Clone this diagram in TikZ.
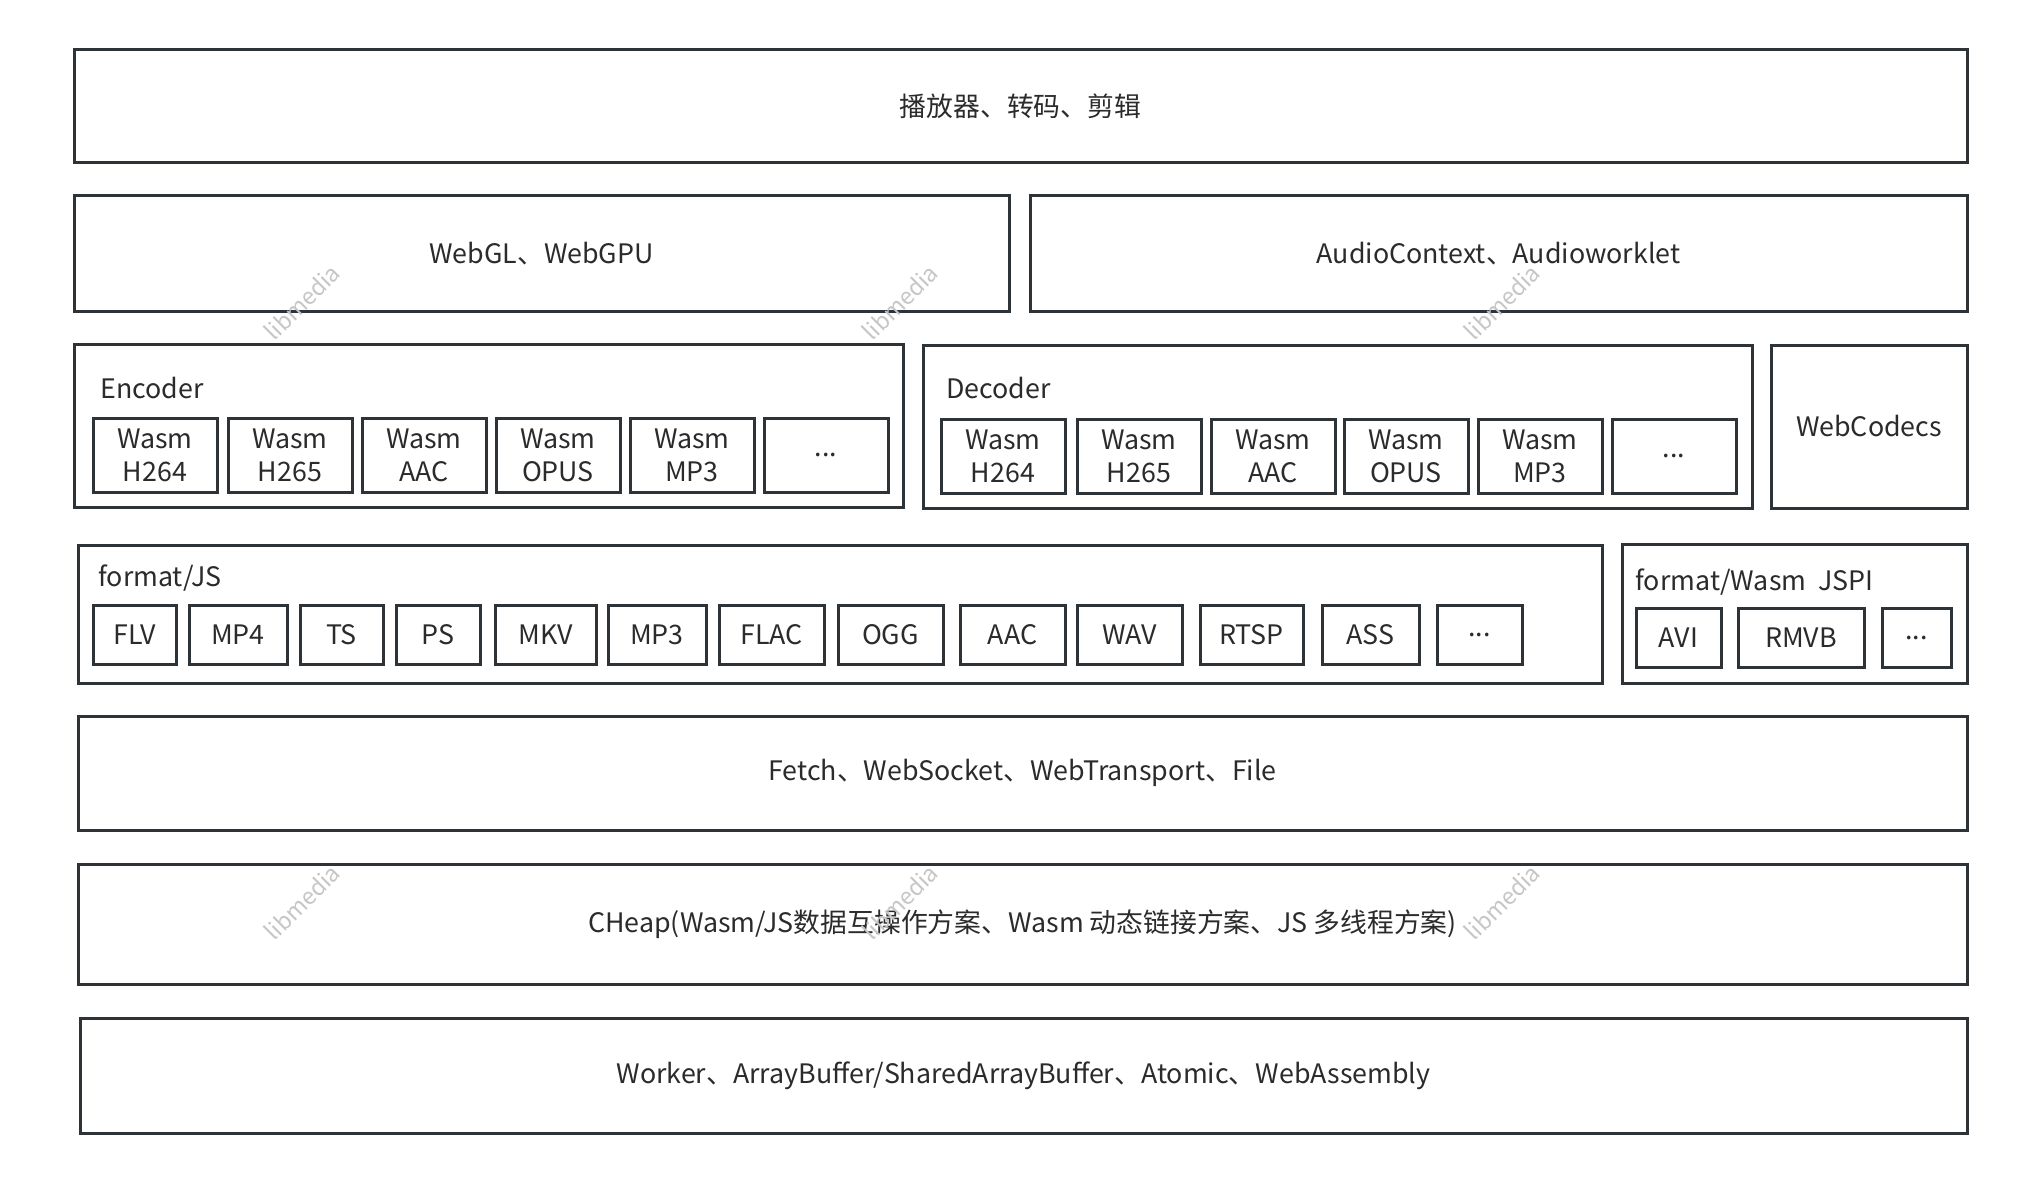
\documentclass[tikz,border=0pt]{standalone}
\usepackage{fontspec}
\setmainfont{Noto Sans CJK SC}
\definecolor{edgec}{HTML}{2E3338}
\definecolor{textc}{HTML}{2B2B2B}
\newcommand{\moretxt}{...}
\tikzset{
  area/.style n args={4}{minimum width={(#3-#1)*0.5pt}, minimum height={(#4-#2)*0.5pt},
    at={({(#1+#3)/2},{(#2+#4)/2})}},
  layer/.style={draw=edgec, line width=1.5pt, inner sep=0pt, text=textc,
    font=\fontsize{13.4pt}{16.5pt}\selectfont, align=center},
  cell/.style={layer},
  tag/.style={anchor=west, inner sep=0pt, text=textc,
    font=\fontsize{13.4pt}{16.5pt}\selectfont},
  wm/.style={text=gray!45, rotate=45, font=\fontsize{11.5pt}{13pt}\selectfont},
}
\begin{document}
\begin{tikzpicture}[x=0.5pt,y=-0.5pt]
  \useasboundingbox[fill=white] (0,0) rectangle (2017,1182);
  % top layers
  \node[layer, area={74}{50}{1967}{163}] (app) {播放器、转码、剪辑};
  \node[layer, area={74}{196}{1009}{311}] (render) {WebGL、WebGPU};
  \node[layer, area={1030}{196}{1967}{311}] (audio) {AudioContext、Audioworklet};
  % codecs
  \node[layer, area={74}{344}{903}{507}] (enc) {};
  \node[tag] (enclabel) at (100,388) {Encoder};
  \foreach \xa/\txt [count=\i] in {93/{Wasm\\H264}, 228/{Wasm\\H265}, 362/{Wasm\\AAC},
      496/{Wasm\\OPUS}, 630/{Wasm\\MP3}, 764/\moretxt}
    \node[cell, area={\xa}{418}{\xa+124}{492}] (enc\i) {\txt};
  \node[layer, area={923}{345}{1752}{508}] (dec) {};
  \node[tag] (declabel) at (946,388) {Decoder};
  \foreach \xa/\txt [count=\i] in {941/{Wasm\\H264}, 1077/{Wasm\\H265}, 1211/{Wasm\\AAC},
      1344/{Wasm\\OPUS}, 1478/{Wasm\\MP3}, 1612/\moretxt}
    \node[cell, area={\xa}{419}{\xa+124}{493}] (dec\i) {\txt};
  \node[layer, area={1771}{345}{1967}{508}] (webcodecs) {WebCodecs};
  % formats
  \node[layer, area={78}{545}{1602}{683}] (fmtjs) {};
  \node[tag] (fmtjslabel) at (98,578) {format/JS};
  \foreach \xa/\xb/\txt [count=\i] in {93/176/FLV, 189/287/MP4, 300/383/TS, 396/480/PS,
      495/596/MKV, 608/706/MP3, 719/824/FLAC, 838/943/OGG, 960/1065/AAC,
      1077/1182/WAV, 1200/1303/RTSP, 1322/1419/ASS, 1437/1522/\moretxt}
    \node[cell, area={\xa}{605}{\xb}{664}] (js\i) {\txt};
  \node[layer, area={1622}{544}{1967}{683}] (fmtwasm) {};
  \node[tag] (fmtwasmlabel) at (1635,582) {format/Wasm\ \ JSPI};
  \foreach \xa/\xb/\txt [count=\i] in {1636/1721/AVI, 1738/1864/RMVB, 1882/1951/\moretxt}
    \node[cell, area={\xa}{608}{\xb}{667}] (wasm\i) {\txt};
  % base layers
  \node[layer, area={78}{716}{1967}{830}] (io) {Fetch、WebSocket、WebTransport、File};
  \node[layer, area={78}{864}{1967}{984}] (heap)
    {CHeap(Wasm/JS数据互操作方案、Wasm 动态链接方案、JS 多线程方案)};
  \node[layer, area={80}{1018}{1967}{1133}] (base)
    {Worker、ArrayBuffer/SharedArrayBuffer、Atomic、WebAssembly};
  % watermarks
  \node[wm] (wm1) at (302,302) {libmedia};
  \node[wm] (wm2) at (900,302) {libmedia};
  \node[wm] (wm3) at (1502,302) {libmedia};
  \node[wm] (wm4) at (302,902) {libmedia};
  \node[wm] (wm5) at (900,902) {libmedia};
  \node[wm] (wm6) at (1502,902) {libmedia};
\end{tikzpicture}
\end{document}
